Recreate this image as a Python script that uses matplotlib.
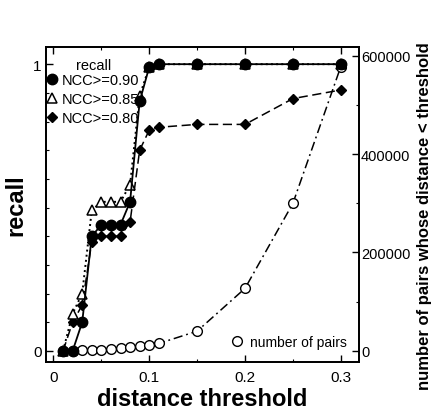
"""Recall vs. distance threshold for three NCC cut-offs, with the number of
candidate pairs on a second y-axis."""

import matplotlib
matplotlib.use("Agg")
from matplotlib import pyplot as plt
from matplotlib.lines import Line2D
from matplotlib.ticker import MultipleLocator

THRESHOLDS = [0.01, 0.02, 0.03, 0.04, 0.05, 0.06, 0.07, 0.08, 0.09, 0.10, 0.11,
              0.15, 0.20, 0.25, 0.30]

RECALL_090 = [0.0, 0.0, 0.10, 0.40, 0.44, 0.44, 0.44, 0.52, 0.87, 0.99, 1.0,
              1.0, 1.0, 1.0, 1.0]
RECALL_085 = [0.0, 0.13, 0.20, 0.49, 0.52, 0.52, 0.52, 0.58, 0.89, 0.99, 1.0,
              1.0, 1.0, 1.0, 1.0]
RECALL_080 = [0.0, 0.10, 0.16, 0.38, 0.40, 0.40, 0.40, 0.45, 0.70, 0.77, 0.78,
              0.79, 0.79, 0.88, 0.91]

NUM_PAIRS = [0, 300, 800, 1500, 2500, 3500, 5000, 7000, 9000, 12000, 15000,
             40000, 127000, 300000, 578000]

FONT = "Liberation Sans"
TICK_SIZE = 11


def main():
    plt.rcParams.update({"font.family": FONT, "font.size": TICK_SIZE,
                         "axes.linewidth": 1.3})
    fig = plt.figure(figsize=(4.32, 4.10), dpi=100)
    ax = fig.add_axes([0.106, 0.115, 0.725, 0.768])
    ax2 = ax.twinx()

    # pairs on the twin axis, drawn underneath the recall curves
    ax2.plot(THRESHOLDS, NUM_PAIRS, linestyle="-.", color="black", linewidth=1.1,
             marker="o", markersize=7, markerfacecolor="white",
             markeredgecolor="black", markeredgewidth=1.0, dashes=(6, 2.5, 1.2, 2.5))
    ax.set_zorder(ax2.get_zorder() + 1)
    ax.patch.set_visible(False)

    ax.plot(THRESHOLDS, RECALL_080, linestyle="--", color="black", linewidth=1.1,
            marker="D", markersize=5, dashes=(6, 3))
    ax.plot(THRESHOLDS, RECALL_085, linestyle=":", color="black", linewidth=1.4,
            marker="^", markersize=7, markerfacecolor="white",
            markeredgecolor="black", markeredgewidth=1.1)
    ax.plot(THRESHOLDS, RECALL_090, linestyle="-", color="black", linewidth=1.3,
            marker="o", markersize=7.5)

    ax.set_xlim(-0.008, 0.319)
    ax.set_ylim(-0.038, 1.06)
    ax2.set_ylim(-22400, 618000)

    ax.set_xticks([0, 0.1, 0.2, 0.3])
    ax.set_xticklabels(["0", "0.1", "0.2", "0.3"])
    ax.xaxis.set_minor_locator(MultipleLocator(0.05))
    ax.set_yticks([0, 1])
    ax.set_yticklabels(["0", "1"])
    ax.yaxis.set_minor_locator(MultipleLocator(0.1))
    ax2.set_yticks([0, 200000, 400000, 600000])
    ax2.set_yticklabels(["0", "200000", "400000", "600000"])
    ax2.yaxis.set_minor_locator(MultipleLocator(100000))

    ax.tick_params(axis="both", which="major", direction="in", length=5, width=1,
                   labelsize=TICK_SIZE, top=True, right=False, pad=3)
    ax.tick_params(axis="x", which="major", pad=6)
    ax.tick_params(axis="both", which="minor", direction="in", length=2.5,
                   width=0.8, top=True, right=False)
    ax2.tick_params(axis="y", which="major", direction="in", length=5, width=1,
                    labelsize=10.5, pad=1.5)
    ax2.tick_params(axis="y", which="minor", direction="in", length=2.5, width=0.8)

    ax.set_xlabel("distance threshold", fontsize=17, fontweight="bold", labelpad=2)
    ax.set_ylabel("recall", fontsize=17, fontweight="bold")
    ax.yaxis.set_label_coords(-0.058, 0.5)
    ax2.set_ylabel("number of pairs whose distance < threshold", fontsize=12,
                   fontweight="bold")
    ax2.yaxis.set_label_coords(1.185, 0.465)

    handles = [
        Line2D([], [], linestyle="none", color="black", marker="o", markersize=7.5),
        Line2D([], [], linestyle="none", marker="^", markersize=7,
               markerfacecolor="white", markeredgecolor="black",
               markeredgewidth=1.1),
        Line2D([], [], linestyle="none", color="black", marker="D", markersize=5),
    ]
    leg = ax.legend(handles, ["NCC>=0.90", "NCC>=0.85", "NCC>=0.80"],
                    title="recall", loc="upper left", frameon=False,
                    fontsize=10.5, title_fontsize=10.5, handlelength=0.6,
                    handletextpad=0.35, labelspacing=0.35, borderaxespad=0.1,
                    borderpad=0.3, bbox_to_anchor=(-0.012, 0.985))
    leg._legend_box.align = "center"
    leg._legend_box.sep = 1

    pair_handle = Line2D([], [], linestyle="none", marker="o", markersize=7,
                         markerfacecolor="white", markeredgecolor="black")
    ax2.legend([pair_handle], ["number of pairs"], loc="lower right",
               frameon=False, fontsize=10, handlelength=0.8,
               handletextpad=0.5, borderaxespad=0.6, borderpad=0.3)

    fig.savefig("out.png", dpi=100)
    plt.close(fig)


if __name__ == "__main__":
    main()
